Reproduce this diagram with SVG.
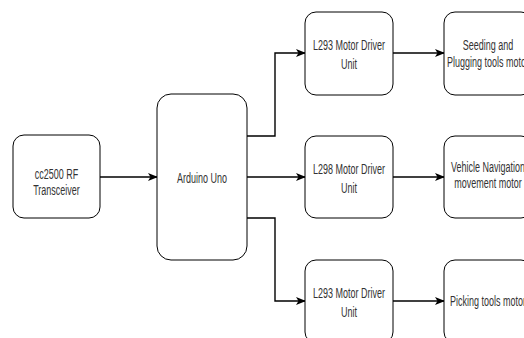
<svg xmlns="http://www.w3.org/2000/svg" width="524" height="338" viewBox="0 0 524 338">
<defs>
<marker id="arr" viewBox="0 0 10 8" refX="9" refY="4" markerWidth="10" markerHeight="8" markerUnits="userSpaceOnUse" orient="auto">
<path d="M0,0 L10,4 L0,8 L2.5,4 z" fill="#000"/>
</marker>
<style>
.box{fill:#fff;stroke:#000;stroke-width:1}
.t{font-family:"Liberation Sans",Arial,sans-serif;font-size:15px;fill:#333;text-anchor:middle}
.c{fill:none;stroke:#000;stroke-width:1.4;marker-end:url(#arr)}
</style>
</defs>
<rect width="524" height="338" fill="#fff"/>
<g id="connectors">
<path class="c" d="M100,177 H157"/>
<path class="c" d="M247,136 H275 V53 H305"/>
<path class="c" d="M247,177 H305"/>
<path class="c" d="M247,218 H275 V301 H305"/>
<path class="c" d="M393,53 H444"/>
<path class="c" d="M393,177 H444"/>
<path class="c" d="M393,301 H444"/>
</g>
<g id="cc2500">
<rect class="box" x="13" y="135" width="87" height="83" rx="11"/>
<g transform="translate(56.5,0) scale(0.6,1)"><text class="t" x="0" y="179">cc2500 RF</text><text class="t" x="0" y="195">Transceiver</text></g>
</g>
<g id="arduino">
<rect class="box" x="157" y="94" width="90" height="166" rx="14"/>
<g transform="translate(202,0) scale(0.6,1)"><text class="t" x="0" y="183">Arduino Uno</text></g>
</g>
<g id="l293a">
<rect class="box" x="305" y="12" width="88" height="83" rx="11"/>
<g transform="translate(349,0) scale(0.6,1)"><text class="t" x="0" y="50">L293 Motor Driver</text><text class="t" x="0" y="69">Unit</text></g>
</g>
<g id="l298">
<rect class="box" x="305" y="136" width="88" height="82" rx="11"/>
<g transform="translate(349,0) scale(0.6,1)"><text class="t" x="0" y="174">L298 Motor Driver</text><text class="t" x="0" y="193">Unit</text></g>
</g>
<g id="l293b">
<rect class="box" x="305" y="260" width="88" height="83" rx="11"/>
<g transform="translate(349,0) scale(0.6,1)"><text class="t" x="0" y="298">L293 Motor Driver</text><text class="t" x="0" y="317">Unit</text></g>
</g>
<g id="seeding">
<rect class="box" x="444" y="12" width="88" height="83" rx="11"/>
<g transform="translate(488,0) scale(0.6,1)"><text class="t" x="0" y="50">Seeding and</text><text class="t" x="0" y="67">Plugging tools motor</text></g>
</g>
<g id="vehicle">
<rect class="box" x="444" y="136" width="88" height="82" rx="11"/>
<g transform="translate(488,0) scale(0.6,1)"><text class="t" x="0" y="172">Vehicle Navigation</text><text class="t" x="0" y="188">movement motor</text></g>
</g>
<g id="picking">
<rect class="box" x="444" y="260" width="88" height="83" rx="11"/>
<g transform="translate(488,0) scale(0.6,1)"><text class="t" x="0" y="306">Picking tools motor</text></g>
</g>
</svg>
